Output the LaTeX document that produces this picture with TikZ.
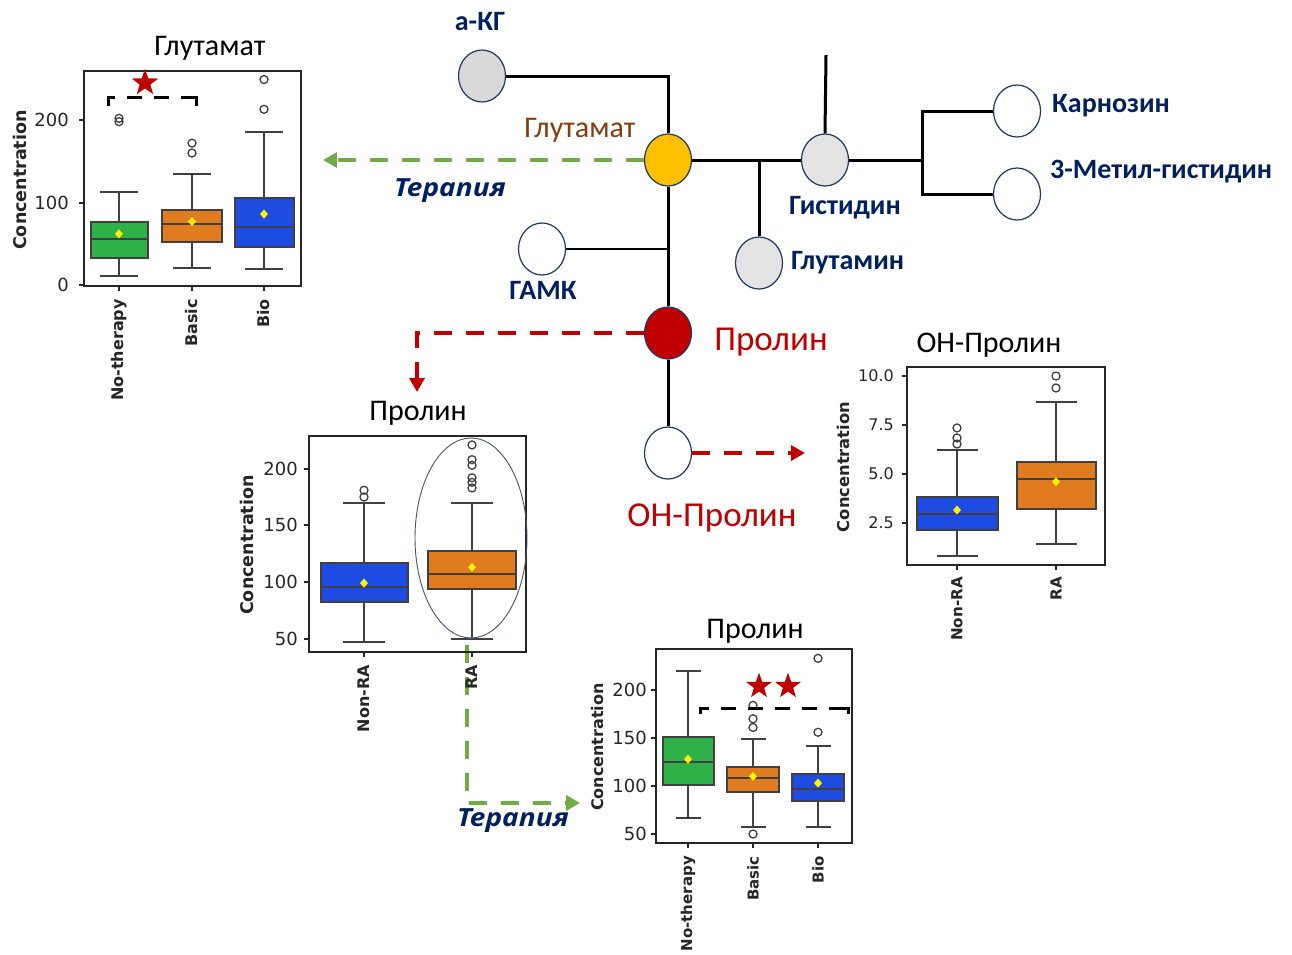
\documentclass[tikz,border=0pt]{standalone}
\usepackage{fontspec}
\setmainfont{Carlito}
\newfontfamily\dvfont{DejaVu Sans}
\newfontfamily\osfont{Open Sans}[FakeStretch=1.12]
\usetikzlibrary{shapes.geometric,arrows.meta}

\definecolor{navy}{HTML}{002060}
\definecolor{rimblue}{HTML}{203864}
\definecolor{brownlab}{HTML}{843C0C}
\definecolor{darkred}{HTML}{C00000}
\definecolor{ltgreen}{HTML}{70AD47}
\definecolor{gold}{HTML}{FFC000}
\definecolor{greyfill}{HTML}{D9D9D9}
\definecolor{paleg}{HTML}{E3E3E3}
\definecolor{bxgreen}{RGB}{46,178,72}
\definecolor{bxorange}{RGB}{224,123,32}
\definecolor{bxblue}{RGB}{30,76,226}
\definecolor{bxedge}{HTML}{404040}
\definecolor{axisgrey}{HTML}{262626}
\definecolor{ellrim}{HTML}{44546A}

\tikzset{
  metab/.style={ellipse, draw=rimblue, line width=1.2pt, minimum width=47pt, minimum height=52pt, inner sep=0pt},
  link/.style={line width=3pt, draw=black},
  thinlink/.style={line width=1.6pt, draw=black},
  lab/.style={font=\fontsize{28}{32}\selectfont\bfseries, text=navy, inner sep=0pt},
  redlab/.style={font=\fontsize{35}{40}\selectfont, text=darkred, inner sep=0pt},
  gdash/.style={draw=ltgreen, line width=3.5pt, dash pattern=on 18pt off 14pt, -{Triangle[length=14pt,width=15pt]}},
  rdash/.style={draw=darkred, line width=3.5pt, dash pattern=on 18pt off 14pt, -{Triangle[length=14pt,width=15pt]}},
  ther/.style={font=\osfont\fontsize{25}{29}\selectfont\bfseries\itshape, text=navy, inner sep=0pt},
  ptitle/.style={font=\fontsize{30}{34}\selectfont, text=black, inner sep=0pt},
  whisk/.style={draw=bxedge, line width=2pt},
  boxedge/.style={draw=bxedge, line width=2pt},
  frame/.style={draw=axisgrey, line width=2pt},
  outl/.style={draw=bxedge, line width=1.3pt},
  ticklab/.style={font=\dvfont\fontsize{18}{20}\selectfont, text=axisgrey, anchor=east, inner sep=0pt},
  ylab/.style={font=\dvfont\bfseries\fontsize{17.5}{20}\selectfont, text=axisgrey, rotate=90, inner sep=0pt},
  xlab/.style={font=\dvfont\bfseries\fontsize{16}{18}\selectfont, text=axisgrey, rotate=90, anchor=east, inner sep=0pt},
  bracket/.style={draw=black, line width=3pt, dash pattern=on 15pt off 12pt},
  hook/.style={draw=black, line width=3pt},
  starmark/.style={star, star points=5, star point ratio=2.5, fill=darkred, inner sep=0pt, minimum size=28pt},
  ring/.style={draw=ellrim, line width=0.9pt}
}

% one box with whiskers: colour, x, half width, low, q1, median, q3, high, mean
\newcommand\boxplt[9]{%
  \draw[whisk] (#2,#4) -- (#2,#5) (#2,#7) -- (#2,#8);
  \draw[whisk] ({#2-\capw},#4) -- ({#2+\capw},#4) ({#2-\capw},#8) -- ({#2+\capw},#8);
  \filldraw[fill=#1, boxedge] ({#2-#3},#5) rectangle ({#2+#3},#7);
  \draw[whisk] ({#2-#3},#6) -- ({#2+#3},#6);
  \fill[yellow] (#2,#9) +(0pt,4.5pt) -- +(4pt,0pt) -- +(0pt,-4.5pt) -- +(-4pt,0pt) -- cycle;
}

\begin{document}
\begin{tikzpicture}[x=1pt, y=-1pt]
\fill[white] (0,0) rectangle (1292,954);
\useasboundingbox (0,0) rectangle (1292,954);

% ---------------- metabolic network ----------------
\node[metab, fill=greyfill] (akg) at (482,76) {};
\node[metab, fill=gold] (glu) at (668,160) {};
\node[metab, fill=paleg] (his) at (825,160) {};
\node[metab, fill=paleg] (gln) at (759,263) {};
\node[metab, fill=white] (gaba) at (542,249) {};
\node[metab, fill=darkred] (pro) at (668,333) {};
\node[metab, fill=white] (ohp) at (668,453) {};
\node[metab, fill=white] (car) at (1017,111) {};
\node[metab, fill=white] (mhis) at (1017,194) {};

\coordinate (hisup) at (826,55);
\coordinate (hisfork) at (922,160);

\draw[link] (akg.east) -| (glu.north);
\draw[link] (glu.east) -- (his.west);
\draw[link] (glu.south) -- (pro.north);
\draw[link] (pro.south) -- (ohp.north);
\draw[thinlink] (gaba.east) -- (gaba.east -| glu.south);
\draw[link] (gln.north) -- (gln.north |- glu.east);
\draw[link] (his.north) -- (hisup);
\draw[link] (his.east) -- (hisfork);
\draw[link] (car.west) -| (hisfork);
\draw[link] (mhis.west) -| (hisfork);

\node[lab] (akgl) at (480,22) {а-КГ};
\node[font=\fontsize{30}{34}\selectfont, text=brownlab, inner sep=0pt] (glul) at (580,130) {Глутамат};
\node[lab] (hisl) at (845,208) {Гистидин};
\node[lab, anchor=west] (glnl) at (791,263) {Глутамин};
\node[lab] (gabal) at (543,290) {ГАМК};
\node[lab, anchor=west] (carl) at (1052,106) {Карнозин};
\node[lab, anchor=west] (mhisl) at (1050,172) {3-Метил-гистидин};
\node[redlab] (prol) at (771,342) {Пролин};
\node[redlab] (ohpl) at (712,518) {ОН-Пролин};

% ---------------- therapy and group arrows ----------------
\coordinate (gluarrow) at (323,160);
\coordinate (proarrow) at (417,392);
\coordinate (ohparrow) at (805,453);
\coordinate (rastart) at (467,645);
\coordinate (raarrow) at (580,803);
\draw[gdash] (glu.west) -- (gluarrow);
\draw[rdash] (pro.west) -| (proarrow);
\draw[rdash] (ohp.east) -- (ohparrow);
\draw[gdash] (rastart) |- (raarrow);
\node[ther] (ther1) at (450,191) {Терапия};
\node[ther] (ther2) at (513,821) {Терапия};

% ---------------- Glutamate by therapy ----------------
\node[ptitle] (t1) at (210,48) {Глутамат};
\node[ylab] (c1) at (20,180) {Concentration};
\begin{scope}[shift={(0,285)}, y=0.825pt]
  \def\capw{19}
  \foreach \v/\n in {0/a,100/b,200/c} {
    \draw[frame] (84,\v) -- ++(-5pt,0pt);
    \node[ticklab] (p1\n) at (69,\v) {\v};
  }
  \foreach \x in {119,192,264} \draw[frame] (\x,-1) -- ++(0pt,-5pt);
  \boxplt{bxgreen}{119}{28.5}{11}{33}{56}{76}{113}{62}
  \boxplt{bxorange}{192}{30}{21}{52}{74}{91}{135}{77}
  \boxplt{bxblue}{264}{29.5}{19}{46}{70}{105}{185}{86}
  \foreach \v in {198,202} \draw[outl] (119,\v) circle[radius=4pt];
  \foreach \v in {160,172} \draw[outl] (192,\v) circle[radius=4pt];
  \foreach \v in {213,249} \draw[outl] (264,\v) circle[radius=4pt];
  \draw[frame] (84,-1) rectangle (301,259);
  \draw[bracket] (108,217) -- (108,227) -- (196,227) -- (196,217);
  \draw[hook] (191,227) -- (196,227) -- (196,217);
  \node[starmark] (s1) at (145,245) {};
\end{scope}
\node[xlab] (x1a) at (119,299) {No-therapy};
\node[xlab] (x1b) at (192,299) {Basic};
\node[xlab] (x1c) at (264,299) {Bio};

% ---------------- Proline, RA vs non-RA ----------------
\node[ptitle] (t2) at (418,413) {Пролин};
\node[ylab] (c2) at (247,545) {Concentration};
\begin{scope}[shift={(0,695.3)}, y=1.133pt]
  \def\capw{21}
  \foreach \v/\n in {50/a,100/b,150/c,200/d} {
    \draw[frame] (309,\v) -- ++(-5pt,0pt);
    \node[ticklab] (p2\n) at (298,\v) {\v};
  }
  \foreach \x in {364,472} \draw[frame] (\x,38.2) -- ++(0pt,-5pt);
  \boxplt{bxblue}{364}{43.5}{47}{82}{96}{117}{170}{99}
  \boxplt{bxorange}{472}{44}{50}{94}{107}{127}{170}{113}
  \foreach \v in {175,181} \draw[outl] (364,\v) circle[radius=4pt];
  \foreach \v in {183,188,192,203,208,221} \draw[outl] (472,\v) circle[radius=4pt];
  \draw[frame] (309,38.2) rectangle (526,229);
\end{scope}
\draw[ring] (471,538) ellipse [x radius=56pt, y radius=100pt];
\node[xlab] (x2a) at (364,665) {Non-RA};
\node[xlab] (x2b) at (472,665) {RA};

% ---------------- OH-proline, RA vs non-RA ----------------
\node[ptitle] (t3) at (989,345) {ОН-Пролин};
\node[ylab, font=\dvfont\bfseries\fontsize{16.3}{19}\selectfont] (c3) at (843,467) {Concentration};
\begin{scope}[shift={(0,572)}, y=19.6pt]
  \def\capw{20.5}
  \foreach \v/\t/\n in {2.5/2.5/a,5/5.0/b,7.5/7.5/c,10/10.0/d} {
    \draw[frame] (907,\v) -- ++(-5pt,0pt);
    \node[ticklab, font=\dvfont\fontsize{16}{18}\selectfont] (p3\n) at (894,\v) {\t};
  }
  \foreach \x in {957,1056} \draw[frame] (\x,0.357) -- ++(0pt,-5pt);
  \boxplt{bxblue}{957}{40.5}{0.82}{2.14}{2.96}{3.83}{6.22}{3.16}
  \boxplt{bxorange}{1056}{39.5}{1.43}{3.21}{4.74}{5.61}{8.67}{4.6}
  \foreach \v in {6.53,6.84,7.35} \draw[outl] (957,\v) circle[radius=4pt];
  \foreach \v in {9.39,10.0} \draw[outl] (1056,\v) circle[radius=4pt];
  \draw[frame] (907,0.357) rectangle (1105,10.46);
\end{scope}
\node[xlab, font=\dvfont\bfseries\fontsize{15.2}{18}\selectfont] (x3a) at (957,577) {Non-RA};
\node[xlab, font=\dvfont\bfseries\fontsize{15.2}{18}\selectfont] (x3b) at (1056,577) {RA};

% ---------------- Proline by therapy ----------------
\node[ptitle] (t4) at (755,631) {Пролин};
\node[ylab, font=\dvfont\bfseries\fontsize{16}{19}\selectfont] (c4) at (598,747) {Concentration};
\begin{scope}[shift={(0,882)}, y=0.96pt]
  \def\capw{12.5}
  \foreach \v/\n in {50/a,100/b,150/c,200/d} {
    \draw[frame] (656,\v) -- ++(-5pt,0pt);
    \node[ticklab] (p4\n) at (647,\v) {\v};
  }
  \foreach \x in {688,753,818} \draw[frame] (\x,40.6) -- ++(0pt,-5pt);
  \boxplt{bxgreen}{688}{25.5}{67}{101}{125}{151}{220}{128}
  \boxplt{bxorange}{753}{26}{57}{94}{108}{120}{149}{110}
  \boxplt{bxblue}{818}{26}{57}{84}{97}{113}{142}{103}
  \foreach \v in {50,161,170,184} \draw[outl] (753,\v) circle[radius=4pt];
  \foreach \v in {156,233} \draw[outl] (818,\v) circle[radius=4pt];
  \draw[frame] (656,40.6) rectangle (852,242.7);
  \draw[bracket] (700,175) -- (700,181.25) -- (848,181.25) -- (848,175);
  \draw[hook] (840,181.25) -- (848,181.25) -- (848,175);
  \node[starmark, minimum size=27pt] (s2) at (759,204) {};
  \node[starmark, minimum size=27pt] (s3) at (788,204) {};
\end{scope}
\node[xlab, font=\dvfont\bfseries\fontsize{15}{18}\selectfont] (x4a) at (688,856) {No-therapy};
\node[xlab, font=\dvfont\bfseries\fontsize{15}{18}\selectfont] (x4b) at (753,856) {Basic};
\node[xlab, font=\dvfont\bfseries\fontsize{15}{18}\selectfont] (x4c) at (818,856) {Bio};

\end{tikzpicture}
\end{document}
